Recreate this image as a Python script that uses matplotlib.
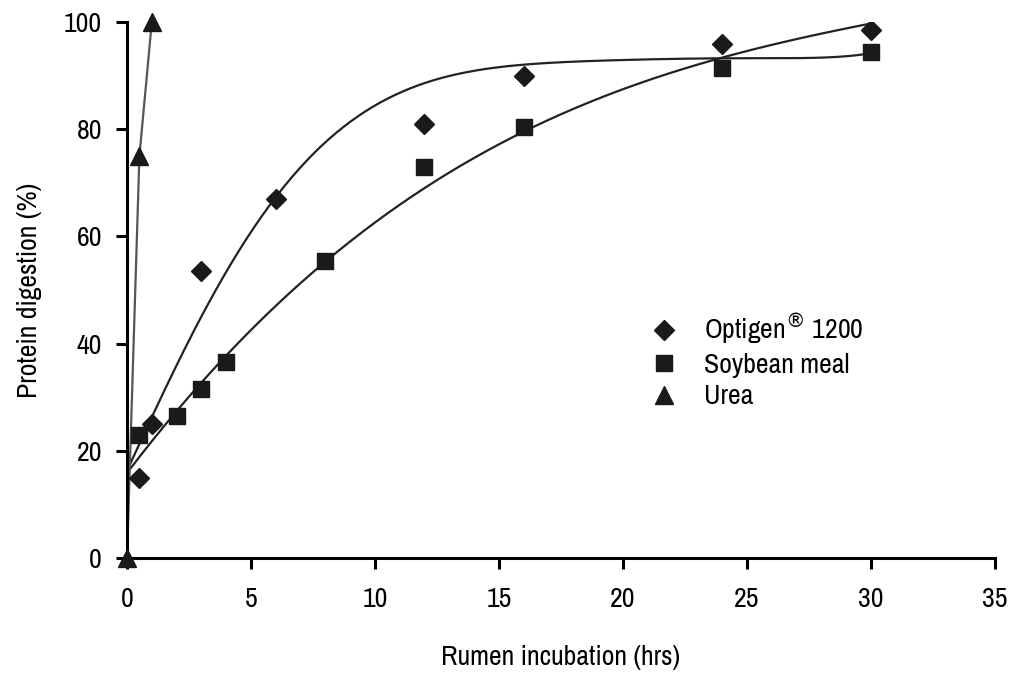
import numpy as np
import matplotlib.pyplot as plt
from matplotlib import font_manager

names = {f.name for f in font_manager.fontManager.ttflist}
font = 'Liberation Sans Narrow' if 'Liberation Sans Narrow' in names else 'Archivo Narrow'
plt.rcParams['font.family'] = [font, 'DejaVu Sans']

# digestion data (hrs, %)
opt_t = [0.5, 1, 3, 6, 12, 16, 24, 30]
opt_y = [15, 25, 53.5, 67, 81, 90, 96, 98.5]
soy_t = [0.5, 2, 3, 4, 8, 12, 16, 24, 30]
soy_y = [23, 26.5, 31.5, 36.5, 55.5, 73, 80.5, 91.5, 94.5]
urea_t = [0, 0.5, 1]
urea_y = [0, 75, 100]

# polynomial trendlines (highest power first)
opt_fit = [1.28628e-06, -0.000128213, 0.00472763, -0.0701511, 0.0212671, 10.0458, 16.2682]
soy_fit = [0.00154594, -0.155761, 6.0783, 15.8507]

fig = plt.figure(figsize=(10.16, 6.73), dpi=100)
ax = fig.add_axes([0.125, 0.171, 0.854, 0.796])

tt = np.linspace(0, 30, 300)
ax.plot(tt, np.polyval(opt_fit, tt), color='#222222', lw=1.6)
ax.plot(tt, np.polyval(soy_fit, tt), color='#222222', lw=1.6)
ax.plot(urea_t, urea_y, color='#555555', lw=1.6)

ax.plot(opt_t, opt_y, 'D', color='#1a1a1a', ms=10, ls='none', label='Optigen$^{\\circledR}$ 1200')
ax.plot(soy_t, soy_y, 's', color='#1a1a1a', ms=12, ls='none', label='Soybean meal')
ax.plot(urea_t, urea_y, '^', color='#1a1a1a', ms=13, ls='none', label='Urea',
        clip_on=False, zorder=5)

ax.set_xlim(0, 35)
ax.set_ylim(0, 100)
ax.set_xticks(range(0, 36, 5))
ax.set_yticks(range(0, 101, 20))
for s in ['top', 'right']:
    ax.spines[s].set_visible(False)
for s in ['left', 'bottom']:
    ax.spines[s].set_linewidth(2.2)
ax.tick_params(direction='out', width=2.2, length=8, labelsize=20, pad=13)
ax.tick_params(axis='y', pad=10)
ax.set_xlabel('Rumen incubation (hrs)', fontsize=20, labelpad=24)
ax.set_ylabel('Protein digestion (%)', fontsize=20, labelpad=16)

ax.legend(loc='upper left', bbox_to_anchor=(0.585, 0.48), frameon=False, fontsize=20,
          handletextpad=0.8, labelspacing=0.22, borderaxespad=0, handlelength=1.3)

fig.savefig('out.png', dpi=100)
